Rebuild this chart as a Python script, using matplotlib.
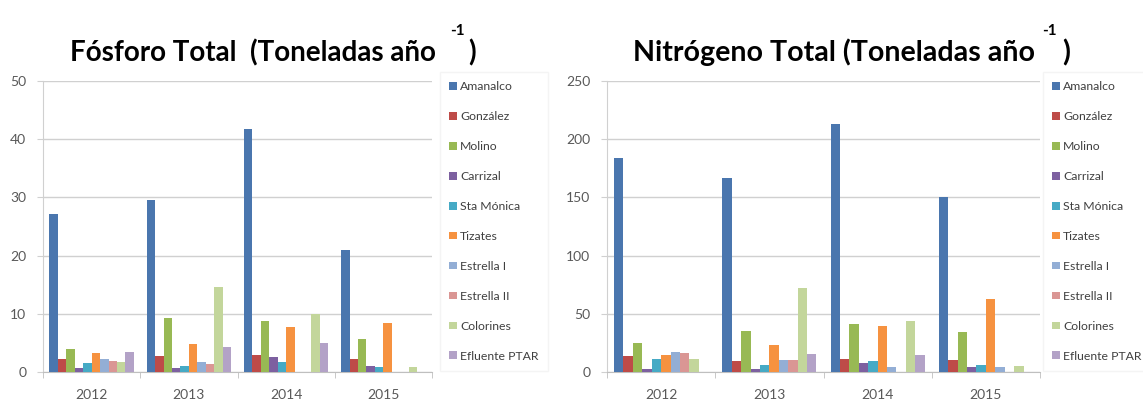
import numpy as np
import matplotlib
matplotlib.use('Agg')
import matplotlib.pyplot as plt
from matplotlib.ticker import FixedLocator

plt.rcParams['font.family'] = ['Lato', 'DejaVu Sans']

# Datos
anios = ['2012', '2013', '2014', '2015']
series = ['Amanalco', 'González', 'Molino', 'Carrizal', 'Sta Mónica',
          'Tizates', 'Estrella I', 'Estrella II', 'Colorines', 'Efluente PTAR']

# Fosforo total (t/año), una lista por serie, en orden 2012..2015
p_amanalco  = [27.2, 29.5, 41.8, 20.9]
p_gonzalez  = [2.2, 2.7, 3.0, 2.2]
p_molino    = [3.9, 9.3, 8.8, 5.7]
p_carrizal  = [0.7, 0.7, 2.6, 1.1]
p_stamonica = [1.5, 1.1, 1.8, 0.9]
p_tizates   = [3.2, 4.8, 7.8, 8.4]
p_estrella1 = [2.2, 1.8, 0.0, 0.0]
p_estrella2 = [1.9, 1.4, 0.0, 0.0]
p_colorines = [1.8, 14.6, 10.0, 0.9]
p_efluente  = [3.5, 4.3, 5.0, 0.0]

# Nitrogeno total (t/año)
n_amanalco  = [183.6, 166.5, 212.8, 150.5]
n_gonzalez  = [14.0, 9.7, 11.2, 10.0]
n_molino    = [24.6, 34.9, 41.5, 34.6]
n_carrizal  = [2.6, 2.9, 7.7, 4.3]
n_stamonica = [10.9, 5.7, 9.2, 6.0]
n_tizates   = [14.9, 23.2, 39.2, 62.6]
n_estrella1 = [17.2, 10.6, 4.3, 4.3]
n_estrella2 = [16.0, 10.6, 0.0, 0.0]
n_colorines = [11.2, 71.8, 44.0, 5.4]
n_efluente  = [0.0, 15.7, 14.6, 0.0]

fosforo = [p_amanalco, p_gonzalez, p_molino, p_carrizal, p_stamonica,
           p_tizates, p_estrella1, p_estrella2, p_colorines, p_efluente]
nitrogeno = [n_amanalco, n_gonzalez, n_molino, n_carrizal, n_stamonica,
             n_tizates, n_estrella1, n_estrella2, n_colorines, n_efluente]

colores = ['#4A76AE', '#BE4B48', '#98B954', '#7D60A0', '#46AAC5',
           '#F69240', '#93AED5', '#DA9694', '#C3D69B', '#B3A2C7']

W, H = 1143, 401
fig = plt.figure(figsize=(W/100, H/100), dpi=100)

def px(x0, y0, x1, y1):
    # caja en pixeles (desde arriba) -> fraccion de figura
    return [x0/W, 1 - y1/H, (x1 - x0)/W, (y1 - y0)/H]

def grafica(ax, datos, ymax, paso, leg_x):
    n = len(datos)
    w = 1.0/(n + 1.5)
    x = np.arange(len(anios))
    for i, (vals, c, lab) in enumerate(zip(datos, colores, series)):
        ax.bar(x + (i - (n - 1)/2.0)*w, vals, w, color=c, label=lab, zorder=3)
    ax.set_xlim(-0.5, len(anios) - 0.5)
    ax.set_ylim(0, ymax)
    ax.set_yticks(np.arange(0, ymax + 1, paso))
    ax.set_xticks(x)
    ax.set_xticklabels(anios)
    ax.xaxis.set_minor_locator(FixedLocator(np.arange(-0.5, len(anios), 1.0)))
    ax.tick_params(axis='x', which='major', length=0, labelsize=10,
                   labelcolor='#595959', pad=12)
    ax.tick_params(axis='x', which='minor', length=4, color='#BFBFBF')
    ax.tick_params(axis='y', length=4, color='#D0D0D0', labelsize=10,
                   labelcolor='#595959', pad=8)
    ax.grid(axis='y', color='#D0D0D0', lw=1, zorder=0)
    for s in ['top', 'right']:
        ax.spines[s].set_visible(False)
    ax.spines['left'].set_color('#D0D0D0')
    ax.spines['bottom'].set_color('#BFBFBF')
    leg = ax.legend(loc='upper left', bbox_to_anchor=(leg_x/W, 1 - 72/H),
                    bbox_transform=fig.transFigure, fontsize=8.8,
                    frameon=True, fancybox=False, edgecolor='#F2F2F2',
                    handlelength=0.6, handleheight=0.6, handletextpad=0.3,
                    labelspacing=1.55, borderpad=0.75, borderaxespad=0)
    for t in leg.get_texts():
        t.set_color('#404040')

ax1 = fig.add_axes(px(43, 81, 432, 372))
grafica(ax1, fosforo, 50, 10, 440)
ax2 = fig.add_axes(px(607, 81, 1040, 372))
grafica(ax2, nitrogeno, 250, 50, 1043)

# titulos con el exponente -1 aparte
def titulo(txt, x0, x_sup, x_par, fs):
    fig.text(x0/W, 1 - 61/H, txt, fontsize=fs, fontweight='bold', va='baseline')
    fig.text(x_sup/W, 1 - 35/H, '-1', fontsize=11, fontweight='bold', va='baseline')
    fig.text(x_par/W, 1 - 61/H, ')', fontsize=fs, fontweight='bold', va='baseline')

titulo('Fósforo Total  (Toneladas año', 70, 450, 468, 20)
titulo('Nitrógeno Total (Toneladas año', 633, 1042, 1062, 20.6)

plt.savefig('out.png', dpi=100)
